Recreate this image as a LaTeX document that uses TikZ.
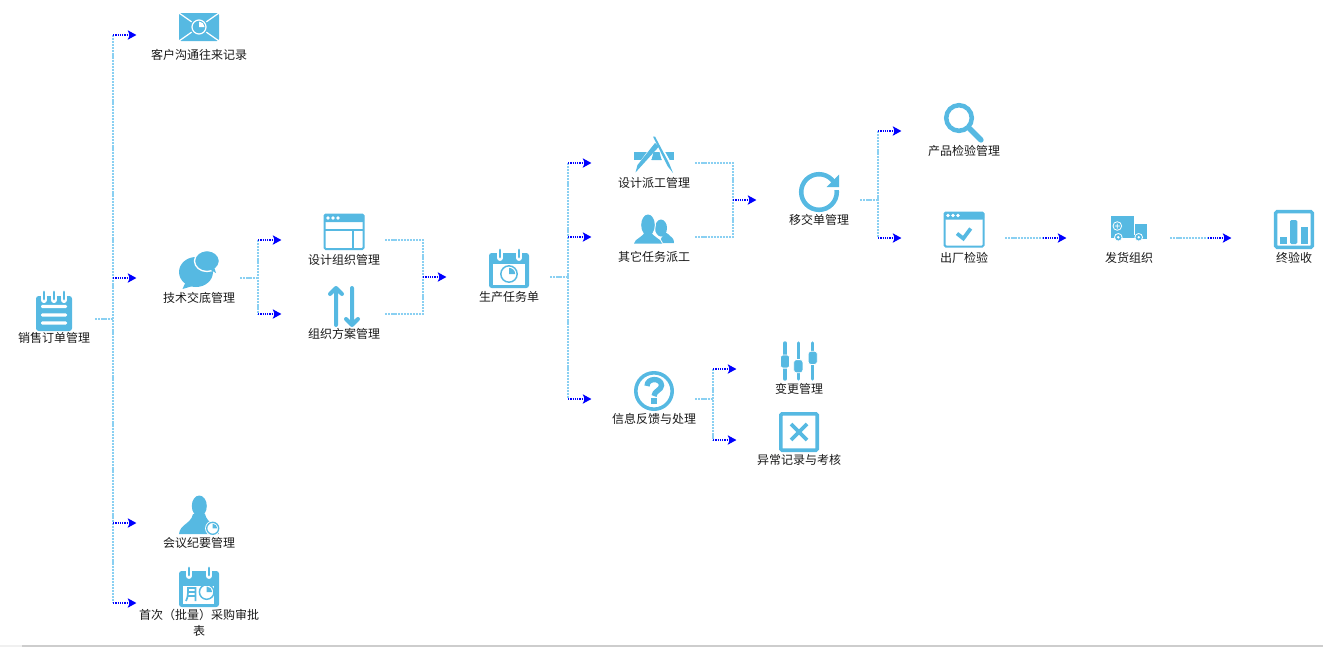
\documentclass[tikz,border=0pt]{standalone}
\usepackage{fontspec}
\setmainfont{Noto Sans CJK SC}
\usetikzlibrary{arrows.meta}
\definecolor{iconblue}{HTML}{56B9E2}
\definecolor{linkblue}{HTML}{8AD0F2}
\definecolor{stripgray}{HTML}{CDCDCD}
\definecolor{stripfaint}{HTML}{F0F0F0}
\tikzset{
  item/.style={minimum width=61.5pt, minimum height=40pt, inner sep=0pt},
  itemtext/.style={font=\fontsize{9pt}{12pt}\selectfont, inner sep=0pt, align=center, text=black!90},
  feedline/.style={draw=linkblue, line width=1.5pt, dash pattern=on 1.6pt off .7pt},
  tipline/.style={draw=blue, line width=.8pt, dash pattern=on 1pt off .7pt, -{Stealth[length=6.5pt,width=7pt,inset=1.5pt]}, shorten >=16pt},
  icon/.style={fill=iconblue, draw=none},
  iconline/.style={draw=iconblue, fill=none, line width=#1},
  iconline/.default=1.5pt,
  dialmark/.pic={
    \draw[iconline=1.1pt] (0,0) circle [radius=7.3];
    \fill[icon] (0,0) -- (0,-5.5) .. controls (3,-5.5) and (5.5,-3) .. (5.5,0) -- cycle;
  },
  notebook/.pic={
    \fill[icon, rounded corners=2pt] (-18,-16) rectangle (18,19);
    \foreach \rx in {-10,0,10} {
      \draw[white, line width=4.6pt, line cap=round] (\rx,-18) -- (\rx,-12);
      \draw[iconblue, line width=2.2pt, line cap=round] (\rx,-20) -- (\rx,-13);
    }
    \foreach \ry in {-5.5,3,11} \fill[white, rounded corners=1pt] (-13,\ry-1.7) rectangle (13,\ry+1.7);
  },
  envelope/.pic={
    \fill[icon, rounded corners=1.5pt] (-20,-14) rectangle (20,14);
    \draw[white, line width=.9pt] (-20,-14) -- (20,14) (20,-14) -- (-20,14);
    \fill[icon] (0,0) circle [radius=9];
    \draw[white, line width=.9pt] (0,0) circle [radius=7];
    \fill[white] (0,0) -- (0,-5.5) .. controls (3,-5.5) and (5.5,-3) .. (5.5,0) -- cycle;
  },
  speech/.pic={
    \fill[icon] (-3,1) circle [x radius=17, y radius=15];
    \fill[icon] (-12,8) -- (-16.5,18) -- (-3,14) -- cycle;
    \fill[icon, draw=white, line width=1pt] (8,-10) circle [x radius=12.5, y radius=10.5];
    \fill[icon] (10,-2) -- (17,2) -- (15,-4) -- cycle;
  },
  windowplan/.pic={
    \draw[iconline, rounded corners=1pt] (-19.5,-17.5) rectangle (19.5,17);
    \fill[icon, rounded corners=1pt] (-20,-18) rectangle (20,-10);
    \foreach \dx in {-16,-11,-6} \fill[white] (\dx,-14) circle [radius=1.9];
    \draw[iconline] (-19,-2) -- (19,-2) (9,-2) -- (9,17);
  },
  updown/.pic={
    \draw[iconline=3pt, line cap=round, line join=round] (-8,19) -- (-8,-18) (-14,-12) -- (-8,-18) -- (-2,-12);
    \draw[iconline=3pt, line cap=round, line join=round] (8,-18) -- (8,19) (2,13) -- (8,19) -- (14,13);
  },
  calendar/.pic={
    \fill[icon, rounded corners=2pt] (-20,-16) rectangle (20,19);
    \fill[white] (-16,-5) rectangle (16,16);
    \foreach \rx in {-9,10} {
      \draw[white, line width=4.4pt, line cap=round] (\rx,-18) -- (\rx,-11);
      \draw[iconblue, line width=2.2pt, line cap=round] (\rx,-19) -- (\rx,-12);
    }
    \pic[scale=1.12] at (0,5) {dialmark};
  },
  appmark/.pic={
    \fill[icon] (-20.5,-3) rectangle (20,5);
    \draw[white, line width=6pt] (-17,17.5) -- (3,-10);
    \draw[white, line width=5pt] (-1,-18) -- (19,18);
    \fill[icon] (-.5,-3) -- (5.5,-3) -- (7.5,5) -- (-2.5,5) -- cycle;
    \fill[icon] (-18.5,17.5) -- (-16.5,10) -- (1,-12) -- (5,-8.5) -- (-14,12.5) -- cycle;
    \fill[icon] (-1,-18.5) -- (1,-18.5) -- (15,8) -- (19,18) -- (13.5,11) -- cycle;
  },
  people/.pic={
    \fill[icon] (7,-1) circle [x radius=6, y radius=8.5];
    \fill[icon] (6,14) .. controls (6,8) and (10,7) .. (11,3) -- (14,5) .. controls (18,9) and (20,9) .. (20,14) -- cycle;
    \draw[white, line width=1.5pt] (-6,-4) circle [x radius=6.8, y radius=10.5];
    \draw[white, line width=1.5pt] (-20,14.5) .. controls (-19,9) and (-11,9) .. (-9,2) -- (-3,2) .. controls (-1,9) and (7,9) .. (8,14.5);
    \fill[icon] (-6,-4) circle [x radius=6.8, y radius=10.5];
    \fill[icon] (-20,14.5) .. controls (-19,9) and (-11,9) .. (-9,2) -- (-3,2) .. controls (-1,9) and (7,9) .. (8,14.5) -- cycle;
  },
  refresh/.pic={
    \draw[iconline=3.4pt] (0,0) circle [radius=17.8];
    \fill[white] (6,-8) rectangle (24,-2.5);
    \fill[white] (16,-24) -- (26,-24) -- (26,-5) -- (16,-5) -- cycle;
    \fill[icon] (20,-17.5) -- (20,-5) -- (7.5,-5) -- cycle;
  },
  magnifier/.pic={
    \draw[iconline=3.4pt] (-5,-5) circle [radius=12.8];
    \draw[iconline=4pt, line cap=round] (5.5,5.5) -- (17,17);
  },
  windowcheck/.pic={
    \draw[iconline, rounded corners=1pt] (-19.5,-17) rectangle (19.5,17);
    \fill[icon, rounded corners=1pt] (-20,-17.5) rectangle (20,-10);
    \foreach \dx in {-16,-11,-6} \fill[white] (\dx,-14) circle [radius=1.9];
    \draw[iconline=2.8pt] (-7,4) -- (-.7,9) -- (6.7,-1);
  },
  truck/.pic={
    \fill[icon] (-18.3,-12) rectangle (5,7);
    \fill[icon] (6,-4) rectangle (17.7,11);
    \fill[icon] (-18.3,7) rectangle (6,10);
    \draw[white, line width=.6pt] (-11.7,-2) circle [radius=4.3] (-14.2,-2) -- (-9.2,-2) (-11.7,-4.5) -- (-11.7,.5);
    \fill[icon, draw=white, line width=.6pt] (-10.7,9.3) circle [radius=3.8];
    \fill[white] (-10.7,9.3) circle [radius=1.4];
    \fill[icon, draw=white, line width=.6pt] (9.7,9.3) circle [radius=3.8];
    \fill[white] (9.7,9.3) circle [radius=1.4];
  },
  barchart/.pic={
    \draw[iconline=2.6pt, rounded corners=1pt] (-18.3,-17.8) rectangle (18.3,17.8);
    \fill[icon] (-14,7.2) rectangle (-7.3,14.5);
    \fill[icon, rounded corners=1pt] (-4,-9.5) rectangle (3.3,14.5);
    \fill[icon] (7,-2.2) rectangle (14.3,14.5);
  },
  question/.pic={
    \draw[iconline=2.7pt] (0,0) circle [radius=18.2];
    \draw[iconline=4pt] (-7,-5) .. controls (-7,-13.5) and (7.5,-13.5) .. (7.5,-5.5) .. controls (7.5,-1) and (0,0) .. (0,5);
    \fill[icon] (-3.3,7) rectangle (3,13);
  },
  sliders/.pic={
    \foreach \sx/\sy in {-14/0.5,-.7/5.2,13.7/-3.2} {
      \draw[iconline=2.6pt, line cap=round] (\sx,-18) -- (\sx,18);
      \fill[icon, draw=white, line width=.6pt, rounded corners=2pt] (\sx-4.6,\sy-6.6) rectangle (\sx+4.6,\sy+6.6);
    }
  },
  crossbox/.pic={
    \draw[iconline=2.7pt, rounded corners=1pt] (-18.2,-18.2) rectangle (18.2,18.2);
    \draw[iconline=2.7pt] (-8,-8) -- (8,8) (8,-8) -- (-8,8);
  },
  person/.pic={
    \fill[icon] (0.3,-9) circle [x radius=7.5, y radius=10.5];
    \fill[icon] (-20,19) .. controls (-19,9) and (-8,9) .. (-6,-1) -- (6,-1) .. controls (8,9) and (19,9) .. (20,19) -- cycle;
    \fill[white] (13.7,13.3) circle [radius=7.6];
    \draw[iconline=1pt] (13.7,13.3) circle [radius=6];
    \fill[icon] (13.7,13.3) -- (13.7,8.8) .. controls (16.2,8.8) and (18.2,10.8) .. (18.2,13.3) -- cycle;
  },
  monthcal/.pic={
    \fill[icon, rounded corners=2pt] (-20,-16) rectangle (20,20);
    \fill[white] (-16.3,-1) rectangle (15,17);
    \foreach \rx in {-10,10} {
      \draw[white, line width=4.4pt, line cap=round] (\rx,-18) -- (\rx,-11);
      \draw[iconblue, line width=2.2pt, line cap=round] (\rx,-19) -- (\rx,-12);
    }
    \draw[iconline=1.3pt] (-13,14) .. controls (-11,10) and (-11,7) .. (-11,1) -- (-3.5,1) -- (-3.5,14) (-11,5) -- (-3.5,5) (-11,9) -- (-3.5,9);
    \pic at (7.7,5) {dialmark};
  },
}
\begin{document}
\begin{tikzpicture}[x=.75pt, y=-.75pt]
\path[use as bounding box] (0,0) rectangle (1323,647);
\fill[stripfaint] (0,645) rectangle (22,647);
\fill[stripgray] (22,645) rectangle (1323,647);
\node[item] (salesorder) at (54,318.5) {};
\pic at (54,312) {notebook};
\node[itemtext] (salesorderlabel) at (54,338) {销售订单管理};
\node[item] (custlog) at (199,35) {};
\pic at (199,27) {envelope};
\node[itemtext] (custloglabel) at (199,55) {客户沟通往来记录};
\node[item] (handover) at (199,278) {};
\pic at (199,271) {speech};
\node[itemtext] (handoverlabel) at (199,298) {技术交底管理};
\node[item] (meeting) at (199,523) {};
\pic at (199,515) {person};
\node[itemtext] (meetinglabel) at (199,543) {会议纪要管理};
\node[item] (purchase) at (199,603) {};
\pic at (199,587) {monthcal};
\node[itemtext, text width=90pt] (purchaselabel) at (199,623) {首次（批量）采购审批\\表};
\node[item] (designorg) at (344,240) {};
\pic at (344,232) {windowplan};
\node[itemtext] (designorglabel) at (344,260) {设计组织管理};
\node[item] (orgplan) at (344,314) {};
\pic at (344,306) {updown};
\node[itemtext] (orgplanlabel) at (344,334) {组织方案管理};
\node[item] (prodtask) at (509,277) {};
\pic at (509,269) {calendar};
\node[itemtext] (prodtasklabel) at (509,297) {生产任务单};
\node[item] (designdisp) at (654,163) {};
\pic at (654,155) {appmark};
\node[itemtext] (designdisplabel) at (654,183) {设计派工管理};
\node[item] (otherdisp) at (654,237) {};
\pic at (654,229) {people};
\node[itemtext] (otherdisplabel) at (654,257) {其它任务派工};
\node[item] (feedback) at (654,399) {};
\pic at (654,391) {question};
\node[itemtext] (feedbacklabel) at (654,419) {信息反馈与处理};
\node[item] (changemgr) at (799,369) {};
\pic at (799,361) {sliders};
\node[itemtext] (changemgrlabel) at (799,389) {变更管理};
\node[item] (abnormal) at (799,440) {};
\pic at (799,432) {crossbox};
\node[itemtext] (abnormallabel) at (799,460) {异常记录与考核};
\node[item] (transfer) at (819,200) {};
\pic at (819,192) {refresh};
\node[itemtext] (transferlabel) at (819,220) {移交单管理};
\node[item] (inspect) at (964,131) {};
\pic at (964,123) {magnifier};
\node[itemtext] (inspectlabel) at (964,151) {产品检验管理};
\node[item] (factorycheck) at (964,238) {};
\pic at (964,229.5) {windowcheck};
\node[itemtext] (factorychecklabel) at (964,258) {出厂检验};
\node[item] (shipping) at (1129,238) {};
\pic at (1129,228) {truck};
\node[itemtext] (shippinglabel) at (1129,258) {发货组织};
\node[item] (finalcheck) at (1294,238) {};
\pic at (1294,229.5) {barchart};
\node[itemtext] (finalchecklabel) at (1294,258) {终验收};
\coordinate (salesj) at (113,318.5);
\coordinate (handoverj) at (258,278);
\coordinate (designj) at (423,277);
\coordinate (prodj) at (568,277);
\coordinate (dispj) at (733,200);
\coordinate (feedbackj) at (713,399);
\coordinate (transferj) at (878,200);
\coordinate (factoryj) at (1043,238);
\coordinate (shippingj) at (1208,238);
\draw[feedline] (salesorder.east) -- (salesj);
\draw[feedline] (salesj |- custlog) -- (salesj |- purchase);
\draw[tipline] (salesj |- custlog) -- (custlog.west);
\draw[tipline] (salesj |- handover) -- (handover.west);
\draw[tipline] (salesj |- meeting) -- (meeting.west);
\draw[tipline] (salesj |- purchase) -- (purchase.west);
\draw[feedline] (handover.east) -- (handoverj);
\draw[feedline] (handoverj |- designorg) -- (handoverj |- orgplan);
\draw[tipline] (handoverj |- designorg) -- (designorg.west);
\draw[tipline] (handoverj |- orgplan) -- (orgplan.west);
\draw[feedline] (designorg.east) -| (designj);
\draw[feedline] (orgplan.east) -| (designj);
\draw[tipline] (designj) -- (prodtask.west);
\draw[feedline] (prodtask.east) -- (prodj);
\draw[feedline] (prodj |- designdisp) -- (prodj |- feedback);
\draw[tipline] (prodj |- designdisp) -- (designdisp.west);
\draw[tipline] (prodj |- otherdisp) -- (otherdisp.west);
\draw[tipline] (prodj |- feedback) -- (feedback.west);
\draw[feedline] (designdisp.east) -| (dispj);
\draw[feedline] (otherdisp.east) -| (dispj);
\draw[tipline] (dispj) -- (transfer.west);
\draw[feedline] (feedback.east) -- (feedbackj);
\draw[feedline] (feedbackj |- changemgr) -- (feedbackj |- abnormal);
\draw[tipline] (feedbackj |- changemgr) -- (changemgr.west);
\draw[tipline] (feedbackj |- abnormal) -- (abnormal.west);
\draw[feedline] (transfer.east) -- (transferj);
\draw[feedline] (transferj |- inspect) -- (transferj |- factorycheck);
\draw[tipline] (transferj |- inspect) -- (inspect.west);
\draw[tipline] (transferj |- factorycheck) -- (factorycheck.west);
\draw[feedline] (factorycheck.east) -- (factoryj);
\draw[tipline] (factoryj) -- (shipping.west);
\draw[feedline] (shipping.east) -- (shippingj);
\draw[tipline] (shippingj) -- (finalcheck.west);
\end{tikzpicture}
\end{document}
